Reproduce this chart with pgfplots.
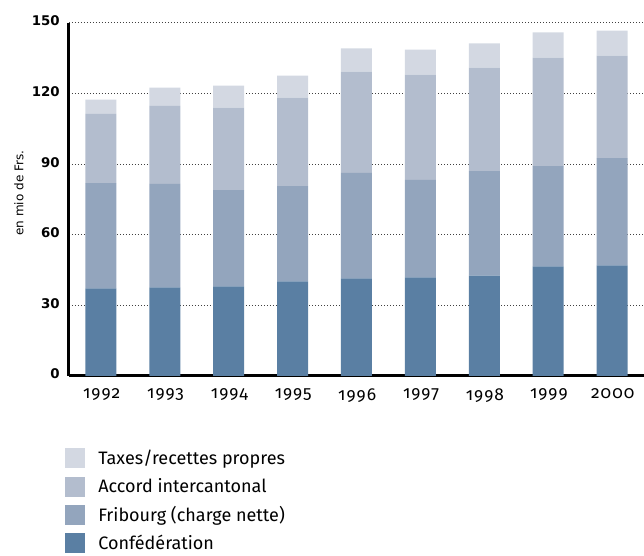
\documentclass[border=0pt]{standalone}
\usepackage{pgfplots}
\usepackage{pgfplotstable}
\pgfplotsset{compat=1.18}
\usepackage{fontspec}
\setmainfont{Fira Sans}
\newfontfamily\xfont[Numbers=OldStyle, LetterSpace=6]{Fira Sans}
\newfontfamily\yfont{DejaVu Sans}

\definecolor{cConf}{HTML}{5A7FA3}
\definecolor{cFrib}{HTML}{93A5BD}
\definecolor{cAccord}{HTML}{B3BDCE}
\definecolor{cTaxes}{HTML}{D3D8E2}

% values in mio de Frs., stacked bottom to top
\pgfplotstableread{
i conf frib accord taxes
0 37.2 44.8 29.4 6.0
1 37.7 43.9 33.2 7.7
2 38.1 40.9 35.0 9.4
3 40.2 40.5 37.6 9.3
4 41.5 44.8 43.0 9.9
5 41.9 41.4 44.8 10.6
6 42.7 44.4 43.9 10.3
7 46.6 42.6 46.1 10.7
8 47.0 45.6 43.5 10.7
}\data

\begin{document}
\begin{tikzpicture}
\useasboundingbox (-51.75pt,-135pt) rectangle (431.25pt,282pt);
\begin{axis}[
  at={(0,0)}, anchor=south west,
  scale only axis,
  width=431.25pt, height=264.75pt,
  xmin=-0.5, xmax=8.5, ymin=0, ymax=150,
  ybar stacked, bar width=23.25pt,
  axis x line*=bottom, axis y line*=left,
  axis line style={line width=2.25pt,-},
  xtick={0,...,8},
  xticklabels={1992,1993,1994,1995,1996,1997,1998,1999,2000},
  ytick={0,30,60,90,120,150},
  major tick length=0pt,
  /pgf/number format/assume math mode=true,
  xticklabel style={font=\xfont\fontsize{13}{13}\selectfont, yshift=-6pt, xshift=0.5pt},
  yticklabel style={font=\yfont\bfseries\fontsize{10}{10}\selectfont, xshift=-3.5pt, yshift=1.5pt},
  ymajorgrids,
  major grid style={black!75, line width=0.75pt, dash pattern=on 0.75pt off 1.5pt},
  ylabel={en mio de Frs.},
  every axis y label/.style={at={(axis description cs:-0.087,0.518)}, rotate=90, anchor=center, font=\yfont\fontsize{9}{9}\selectfont},
  reverse legend,
  legend cell align=left,
  legend image code/.code={\fill[#1] (0pt,-7.5pt) rectangle (15pt,7.5pt);},
  legend style={at={(axis description cs:0,0)}, anchor=north west,
    xshift=-3pt, yshift=-54pt, draw=none, fill=none, inner sep=0pt,
    row sep=6.3pt, font=\fontsize{13.5}{13.5}\selectfont,
    nodes={inner sep=0pt},
    /tikz/every odd column/.append style={column sep=9.75pt}},
]
\addplot[fill=cConf, draw=none] table[x=i,y=conf]{\data};
\addplot[fill=cFrib, draw=none] table[x=i,y=frib]{\data};
\addplot[fill=cAccord, draw=none] table[x=i,y=accord]{\data};
\addplot[fill=cTaxes, draw=none] table[x=i,y=taxes]{\data};
\legend{Confédération, Fribourg (charge nette), Accord intercantonal, Taxes/recettes propres}
\end{axis}
\end{tikzpicture}
\end{document}
